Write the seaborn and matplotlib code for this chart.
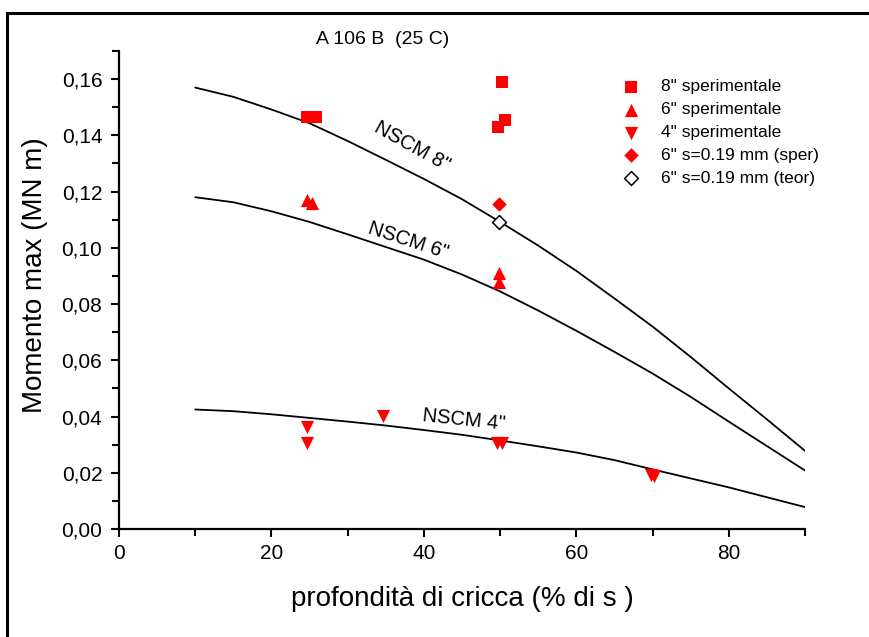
import numpy as np
import pandas as pd
import matplotlib
matplotlib.use("Agg")
import matplotlib.pyplot as plt
import seaborn as sns
from matplotlib.lines import Line2D
from matplotlib.ticker import MultipleLocator, FuncFormatter

# ---- data ----
curve_x = [10, 15, 20, 25, 30, 35, 40, 45, 50, 55, 60, 65, 70, 75, 80, 85, 90]
nscm8 = [0.157, 0.1537, 0.1492, 0.1443, 0.1380, 0.1313, 0.1245, 0.1173, 0.1092,
         0.1008, 0.0918, 0.0820, 0.0720, 0.0612, 0.0500, 0.0390, 0.0278]
nscm6 = [0.118, 0.1162, 0.1130, 0.1092, 0.1048, 0.1003, 0.0958, 0.0905, 0.0845,
         0.0777, 0.0705, 0.0630, 0.0553, 0.0470, 0.0382, 0.0295, 0.0208]
nscm4 = [0.0425, 0.0419, 0.0408, 0.0395, 0.0382, 0.0368, 0.0352, 0.0335, 0.0315,
         0.0294, 0.0272, 0.0245, 0.0212, 0.0180, 0.0148, 0.0113, 0.0078]

sq8_x = [24.6, 25.8, 49.7, 50.2, 50.7]
sq8_y = [0.1465, 0.1465, 0.143, 0.159, 0.1455]

tri6_x = [24.6, 25.3, 49.8, 49.8]
tri6_y = [0.117, 0.116, 0.091, 0.0878]

tri4_x = [24.7, 24.7, 34.6, 49.6, 50.3, 69.8, 70.2]
tri4_y = [0.0363, 0.0306, 0.0402, 0.0306, 0.0306, 0.0192, 0.0188]

dia_sper_x = [49.8]
dia_sper_y = [0.1156]
dia_teor_x = [49.8]
dia_teor_y = [0.1092]

labels = ['8" sperimentale', '6" sperimentale', '4" sperimentale',
          '6" s=0.19 mm (sper)', '6" s=0.19 mm (teor)']

# ---- style ----
sns.set_theme(style="ticks")
plt.rcParams['font.family'] = ['Liberation Sans', 'DejaVu Sans']
plt.rcParams['text.color'] = 'black'
plt.rcParams['axes.labelcolor'] = 'black'

fig = plt.figure(figsize=(8.69, 6.37), dpi=100)
ax = fig.add_axes([119/869, 1-529/637, (805-119)/869, (529-51)/637])

for yy in (nscm8, nscm6, nscm4):
    sns.lineplot(x=curve_x, y=yy, ax=ax, color='black', linewidth=1.3, legend=False)

sns.scatterplot(x=sq8_x, y=sq8_y, ax=ax, marker='s', color='red', s=70,
                linewidth=0, label=labels[0], zorder=3)
sns.scatterplot(x=tri6_x, y=tri6_y, ax=ax, marker='^', color='red', s=90,
                linewidth=0, label=labels[1], zorder=3)
sns.scatterplot(x=tri4_x, y=tri4_y, ax=ax, marker='v', color='red', s=90,
                linewidth=0, label=labels[2], zorder=3)
sns.scatterplot(x=dia_sper_x, y=dia_sper_y, ax=ax, marker='D', color='red', s=55,
                linewidth=0, label=labels[3], zorder=3)
sns.scatterplot(x=dia_teor_x, y=dia_teor_y, ax=ax, marker='D', color='white',
                edgecolor='black', s=50, linewidth=1.1, label=labels[4], zorder=3)

ax.set_xlim(0, 90)
ax.set_ylim(0, 0.17)
ax.xaxis.set_major_locator(MultipleLocator(20))
ax.xaxis.set_minor_locator(MultipleLocator(10))
ax.yaxis.set_major_locator(MultipleLocator(0.02))
ax.yaxis.set_minor_locator(MultipleLocator(0.01))
ax.yaxis.set_major_formatter(FuncFormatter(lambda v, p: f"{v:.2f}".replace('.', ',')))
ax.xaxis.set_major_formatter(FuncFormatter(lambda v, p: f"{v:.0f}"))

sns.despine(ax=ax)
for sp in ('left', 'bottom'):
    ax.spines[sp].set_linewidth(1.6)
    ax.spines[sp].set_color('black')
ax.tick_params(which='major', length=6, width=1.5, labelsize=15, colors='black', direction='out')
ax.tick_params(which='minor', length=5, width=1.5, direction='out', colors='black')
ax.tick_params(axis='x', pad=5)
ax.tick_params(axis='y', pad=6)

ax.set_xlabel('profondità di cricca (% di s )', fontsize=20, labelpad=16)
ax.set_ylabel('Momento max (MN m)', fontsize=20)
ax.yaxis.set_label_coords(-0.104, 0.531)

ax.text(38.4, 0.1360, 'NSCM 8"', rotation=-29, fontsize=14.5, ha='center', va='center',
        rotation_mode='anchor', color='black')
ax.text(38.0, 0.1025, 'NSCM 6"', rotation=-18, fontsize=14.5, ha='center', va='center',
        rotation_mode='anchor', color='black')
ax.text(45.3, 0.0388, 'NSCM 4"', rotation=-6, fontsize=14.5, ha='center', va='center',
        rotation_mode='anchor', color='black')

fig.text(383/869, 1-40/637, 'A 106 B  (25 C)', fontsize=14, ha='center', va='center',
         color='black')

leg = ax.legend(loc='upper left', bbox_to_anchor=(615/869, 1-79/637),
                bbox_transform=fig.transFigure, frameon=False, fontsize=12.5,
                borderpad=0, borderaxespad=0, labelspacing=0.45,
                handlelength=1.9, handletextpad=0.75)
for t in leg.get_texts():
    t.set_color('black')

# figure frame (left and top edges visible)
fig.add_artist(Line2D([7/869, 7/869], [0, 1-13/637], transform=fig.transFigure,
                      color='black', linewidth=2.2))
fig.add_artist(Line2D([7/869, 868/869], [1-13/637, 1-13/637], transform=fig.transFigure,
                      color='black', linewidth=2.2))

fig.savefig('out.png', dpi=100)
